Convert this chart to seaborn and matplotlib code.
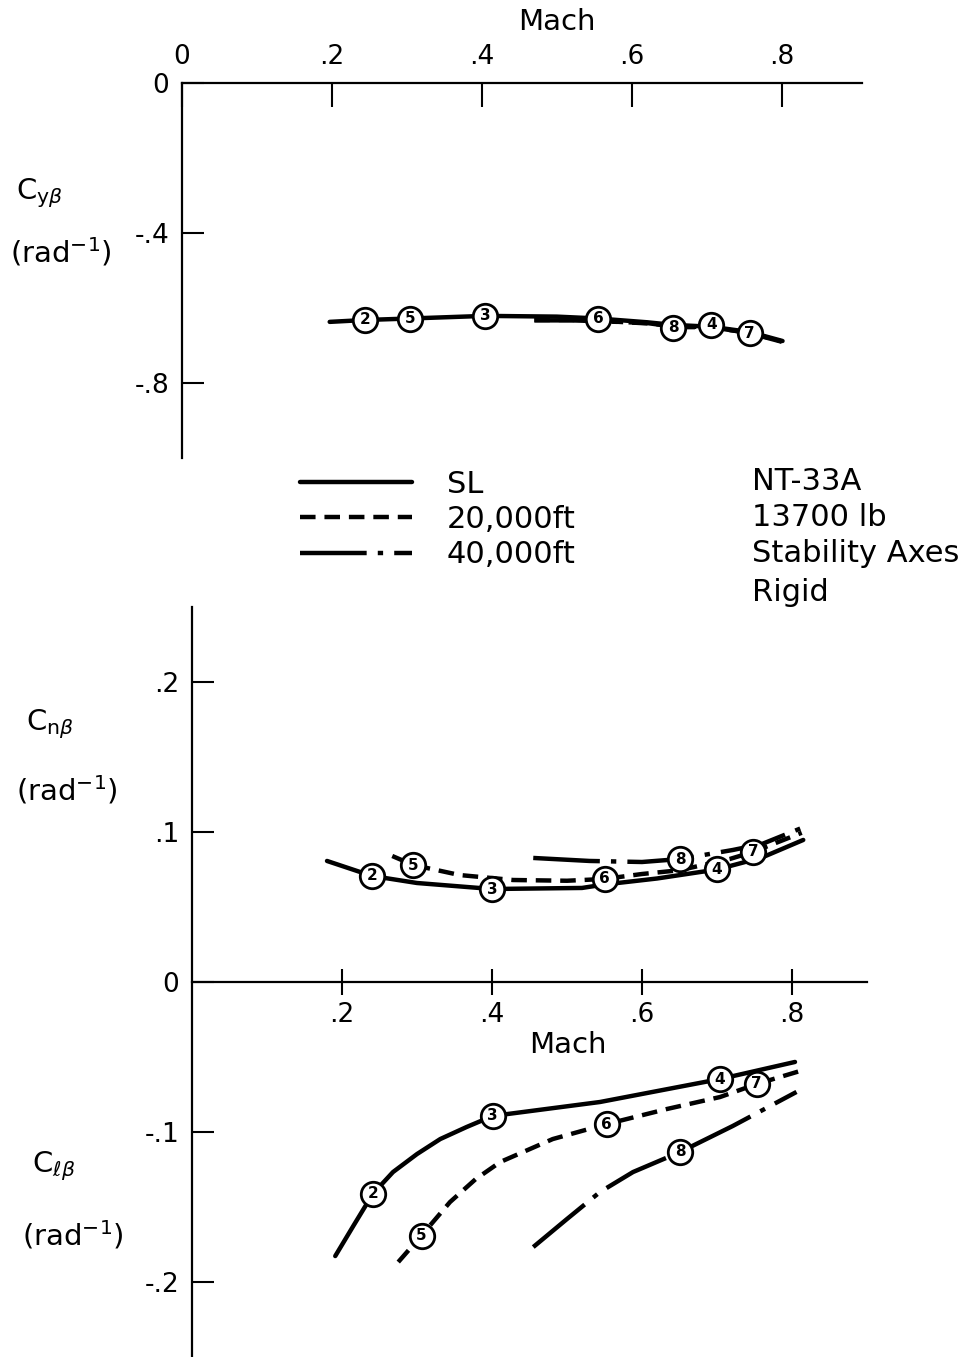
import matplotlib
matplotlib.use('Agg')
import matplotlib.pyplot as plt
import seaborn as sns

# ---------------- data ----------------
MACH_TICKS_TOP = [0.0, 0.2, 0.4, 0.6, 0.8]
MACH_TICKLABELS_TOP = ['0', '.2', '.4', '.6', '.8']
CY_TICKS = [0.0, -0.4, -0.8]
CY_TICKLABELS = ['0', '-.4', '-.8']
MACH_TICKS_BOT = [0.2, 0.4, 0.6, 0.8]
MACH_TICKLABELS_BOT = ['.2', '.4', '.6', '.8']
CNL_TICKS = [0.2, 0.1, 0.0, -0.1, -0.2]
CNL_TICKLABELS = ['.2', '.1', '0', '-.1', '-.2']

SERIES = ['SL', '20,000ft', '40,000ft']
INFO_LINES = ['NT-33A', '13700 lb', 'Stability Axes', 'Rigid']

# Side-force derivative Cy_beta
cy_sl_mach = [0.197, 0.244, 0.304, 0.404, 0.50, 0.555, 0.62, 0.655, 0.706, 0.757, 0.801]
cy_sl_val = [-0.637, -0.632, -0.628, -0.621, -0.623, -0.628, -0.638, -0.645, -0.650, -0.664, -0.688]
cy_20k_mach = [0.47, 0.52, 0.555, 0.62, 0.66, 0.706, 0.757, 0.80]
cy_20k_val = [-0.632, -0.632, -0.634, -0.641, -0.648, -0.652, -0.666, -0.689]
cy_40k_mach = [0.47, 0.52, 0.555, 0.62, 0.66, 0.706, 0.757, 0.80]
cy_40k_val = [-0.633, -0.633, -0.635, -0.640, -0.651, -0.651, -0.667, -0.690]

# Yawing-moment derivative Cn_beta
cn_sl_mach = [0.18, 0.24, 0.30, 0.40, 0.52, 0.55, 0.62, 0.70, 0.76, 0.815]
cn_sl_val = [0.0807, 0.0707, 0.066, 0.062, 0.0627, 0.065, 0.069, 0.075, 0.083, 0.0947]
cn_20k_mach = [0.267, 0.295, 0.357, 0.428, 0.50, 0.55, 0.60, 0.65, 0.717, 0.748, 0.813]
cn_20k_val = [0.084, 0.078, 0.0713, 0.068, 0.0675, 0.0687, 0.072, 0.0745, 0.082, 0.0867, 0.0995]
cn_40k_mach = [0.455, 0.53, 0.60, 0.651, 0.721, 0.76, 0.813]
cn_40k_val = [0.0827, 0.0807, 0.080, 0.082, 0.088, 0.092, 0.1027]

# Rolling-moment derivative Cl_beta
cl_sl_mach = [0.191, 0.215, 0.241, 0.268, 0.30, 0.331, 0.366, 0.401, 0.544, 0.704, 0.804]
cl_sl_val = [-0.1827, -0.1627, -0.1413, -0.1267, -0.1147, -0.1047, -0.0967, -0.0893, -0.080, -0.0647, -0.0533]
cl_20k_mach = [0.275, 0.306, 0.344, 0.378, 0.411, 0.481, 0.553, 0.633, 0.704, 0.753, 0.811]
cl_20k_val = [-0.1867, -0.169, -0.1467, -0.1315, -0.120, -0.1047, -0.0947, -0.0847, -0.0767, -0.068, -0.0593]
cl_40k_mach = [0.455, 0.50, 0.544, 0.588, 0.651, 0.721, 0.806]
cl_40k_val = [-0.1767, -0.158, -0.140, -0.1267, -0.1133, -0.096, -0.0733]

# numbered flight-condition points
pt_labels = ['2', '5', '3', '6', '8', '4', '7']
cy_pt_mach = [0.244, 0.304, 0.404, 0.555, 0.655, 0.706, 0.757]
cy_pt_val = [-0.632, -0.629, -0.621, -0.629, -0.653, -0.645, -0.667]
cn_pt_mach = [0.24, 0.295, 0.40, 0.55, 0.651, 0.70, 0.748]
cn_pt_val = [0.0707, 0.078, 0.062, 0.069, 0.082, 0.0753, 0.0867]
cl_pt_mach = [0.241, 0.306, 0.401, 0.553, 0.651, 0.704, 0.753]
cl_pt_val = [-0.1413, -0.169, -0.0893, -0.0947, -0.1133, -0.0647, -0.068]

# ---------------- style ----------------
sns.set_theme(style='white')
plt.rcParams['font.family'] = ['DejaVu Sans']
plt.rcParams['mathtext.fontset'] = 'dejavusans'
plt.rcParams['text.color'] = 'black'

W, H = 973, 1357
LW = 3.2
DASH = {'SL': None, '20,000ft': (3.5, 2.0), '40,000ft': (15, 2.5, 1.2, 2.5)}
TICK_FS = 19
LABEL_FS = 21
LEG_FS = 22


def fx(px):
    return px / W


def fy(py):
    return 1 - py / H


fig = plt.figure(figsize=(W / 100, H / 100), dpi=100)
fig.patch.set_facecolor('white')

ax1 = fig.add_axes([fx(182), fy(458), 680 / W, 375 / H])
ax2 = fig.add_axes([fx(192), 0.0, 675 / W, 750 / H])


def draw_curve(ax, mach, val, series):
    sns.lineplot(x=mach, y=val, ax=ax, color='black', lw=LW, sort=False,
                 estimator=None, legend=False)
    line = ax.lines[-1]
    if DASH[series] is not None:
        line.set_dashes(DASH[series])
    line.set_solid_capstyle('round')
    line.set_solid_joinstyle('round')
    line.set_label(series)
    return line


def draw_points(ax, mach, val):
    sns.scatterplot(x=mach, y=val, ax=ax, s=310, color='white',
                    edgecolor='black', linewidth=2.0, zorder=5, legend=False)
    for m, v, t in zip(mach, val, pt_labels):
        ax.text(m, v, t, ha='center', va='center', fontsize=11,
                fontweight='bold', zorder=6, color='black')


# ---- top panel: Cy_beta ----
draw_curve(ax1, cy_sl_mach, cy_sl_val, 'SL')
draw_curve(ax1, cy_20k_mach, cy_20k_val, '20,000ft')
draw_curve(ax1, cy_40k_mach, cy_40k_val, '40,000ft')
draw_points(ax1, cy_pt_mach, cy_pt_val)

ax1.set_xlim(0, 0.907)
ax1.set_ylim(-1.0, 0)
for s in ['right', 'bottom']:
    ax1.spines[s].set_visible(False)
for s in ['left', 'top']:
    ax1.spines[s].set_color('black')
    ax1.spines[s].set_linewidth(1.6)
ax1.xaxis.tick_top()
ax1.set_xticks(MACH_TICKS_TOP)
ax1.set_xticklabels(MACH_TICKLABELS_TOP)
ax1.set_yticks(CY_TICKS)
ax1.set_yticklabels(CY_TICKLABELS)
ax1.tick_params(axis='x', direction='in', length=17, width=1.5, pad=9,
                labelsize=TICK_FS, colors='black', top=True, bottom=False)
ax1.tick_params(axis='y', direction='in', length=16, width=1.5, pad=9,
                labelsize=TICK_FS, colors='black', left=True)
ax1.set_xlabel('')
ax1.set_ylabel('')

# ---- bottom panel: Cn_beta and Cl_beta ----
lines = []
lines.append(draw_curve(ax2, cn_sl_mach, cn_sl_val, 'SL'))
lines.append(draw_curve(ax2, cn_20k_mach, cn_20k_val, '20,000ft'))
lines.append(draw_curve(ax2, cn_40k_mach, cn_40k_val, '40,000ft'))
draw_curve(ax2, cl_sl_mach, cl_sl_val, 'SL')
draw_curve(ax2, cl_20k_mach, cl_20k_val, '20,000ft')
draw_curve(ax2, cl_40k_mach, cl_40k_val, '40,000ft')
draw_points(ax2, cn_pt_mach, cn_pt_val)
draw_points(ax2, cl_pt_mach, cl_pt_val)

ax2.set_xlim(0, 0.9)
ax2.set_ylim(-0.25, 0.25)
for s in ['right', 'top']:
    ax2.spines[s].set_visible(False)
ax2.spines['bottom'].set_position(('data', 0))
for s in ['left', 'bottom']:
    ax2.spines[s].set_color('black')
    ax2.spines[s].set_linewidth(1.6)
ax2.set_xticks(MACH_TICKS_BOT)
ax2.set_xticklabels(MACH_TICKLABELS_BOT)
ax2.set_yticks(CNL_TICKS)
ax2.set_yticklabels(CNL_TICKLABELS)
ax2.tick_params(axis='x', direction='inout', length=19, width=1.5, pad=5,
                labelsize=TICK_FS, colors='black', bottom=True, top=False)
ax2.tick_params(axis='y', direction='in', length=16, width=1.5, pad=9,
                labelsize=TICK_FS, colors='black', left=True)
ax2.set_xlabel('')
ax2.set_ylabel('')

# ---- axis titles ----
fig.text(fx(557), fy(22), 'Mach', ha='center', va='center', fontsize=LABEL_FS, color='black')
fig.text(fx(568), fy(1045), 'Mach', ha='center', va='center', fontsize=LABEL_FS, color='black')

fig.text(fx(16), fy(193), r'C$_{\mathrm{y}\beta}$', ha='left', va='center', fontsize=LABEL_FS, color='black')
fig.text(fx(10), fy(252), r'(rad$^{-1}$)', ha='left', va='center', fontsize=LABEL_FS, color='black')
fig.text(fx(26), fy(724), r'C$_{\mathrm{n}\beta}$', ha='left', va='center', fontsize=LABEL_FS, color='black')
fig.text(fx(16), fy(790), r'(rad$^{-1}$)', ha='left', va='center', fontsize=LABEL_FS, color='black')
fig.text(fx(32), fy(1166), r'C$_{\ell\beta}$', ha='left', va='center', fontsize=LABEL_FS, color='black')
fig.text(fx(22), fy(1235), r'(rad$^{-1}$)', ha='left', va='center', fontsize=LABEL_FS, color='black')

# ---- legend ----
leg = fig.legend(handles=lines, labels=SERIES, loc='upper left',
                 bbox_to_anchor=(fx(300), fy(470)), bbox_transform=fig.transFigure,
                 frameon=False, fontsize=LEG_FS, handlelength=3.66,
                 handletextpad=1.15, labelspacing=0.2, borderpad=0, borderaxespad=0)
for t in leg.get_texts():
    t.set_color('black')

for txt, py in zip(INFO_LINES, [482, 518, 553, 592]):
    fig.text(fx(752), fy(py), txt, ha='left', va='center', fontsize=LEG_FS, color='black')

fig.savefig('out.png', dpi=100)
